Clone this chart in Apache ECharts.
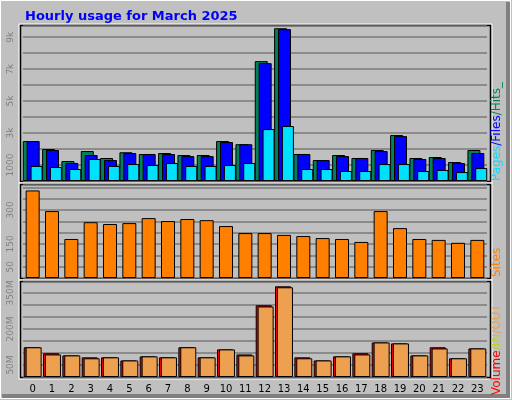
<!DOCTYPE html>
<html><head><meta charset="utf-8">
<script src="https://cdn.jsdelivr.net/npm/echarts@6/dist/echarts.min.js"></script>
<style>html,body{margin:0;padding:0;background:#c0c0c0}#c{width:512px;height:400px}</style>
</head><body><div id="c"></div>
<script>
const hours = ['0','1','2','3','4','5','6','7','8','9','10','11','12','13','14','15','16','17','18','19','20','21','22','23'];
const hits  = [2500,2000,1250,1875,1440,1800,1690,1750,1625,1625,2500,2300,7500,9560,1690,1310,1625,1440,1940,2875,1440,1500,1190,1940];
const files = [2500,1940,1130,1625,1310,1750,1690,1690,1560,1560,2440,2300,7375,9500,1690,1310,1560,1440,1875,2810,1375,1440,1125,1750];
const pages = [940,875,750,1375,940,1060,1000,1125,940,940,1000,1125,3250,3440,750,750,625,625,1060,1060,625,690,560,810];
const sites = [386,295,172,246,238,242,264,251,260,255,229,198,198,190,185,176,172,159,295,220,172,168,155,168];
const volume = [124,99,90,82,82,69,86,82,124,82,115,94,299,378,82,69,86,99,144,140,90,124,78,119];
const inout  = [124,94,90,78,82,69,86,82,124,82,115,90,294,374,78,69,86,94,144,140,90,119,78,119];

const ch = echarts.init(document.getElementById('c'));
const lbl = {color:'#808080',fontSize:9,fontFamily:'DejaVu Sans',rotate:90,margin:8};
const split = {show:true,lineStyle:{color:'#7a7a7a',width:1.5}};
const bord = {color:'#000',borderColor:'#000',borderWidth:1};
function xa(i,show){return {type:'category',gridIndex:i,data:hours,axisTick:{show:false},
  axisLine:{show:false},axisLabel:{show:show,color:'#000',fontSize:10,fontFamily:'DejaVu Sans',margin:7,interval:0}};}
const grid = (top,h)=>({left:23,top:top,width:464,height:h,show:false});
const frame = (top,h)=>[
  {type:'rect',shape:{x:19,y:top-2,width:473,height:h+4},style:{fill:null,stroke:'#ffffff',lineWidth:1}},
  {type:'rect',shape:{x:20.5,y:top-0.5,width:470,height:h+1},style:{fill:null,stroke:'#000',lineWidth:1.5}}
];
ch.setOption({
  animation:false,
  backgroundColor:'#c0c0c0',
  title:{text:'Hourly usage for March 2025',left:20,top:5,textStyle:{color:'#0000ff',fontSize:13,fontWeight:'bold',fontFamily:'DejaVu Sans'}},
  grid:[grid(26,155),grid(185,93),grid(282,95)],
  xAxis:[xa(0,false),xa(1,false),xa(2,true)],
  yAxis:[
    {type:'value',gridIndex:0,min:0,max:9700,interval:1000,splitLine:split,axisLine:{show:false},axisTick:{show:false},
     axisLabel:Object.assign({},lbl,{formatter:v=>v===1000?'1000':((v/1000)%2===1?(v/1000)+'k':''),showMaxLabel:false})},
    {type:'value',gridIndex:1,min:0,max:410,interval:50,splitLine:split,axisLine:{show:false},axisTick:{show:false},
     axisLabel:Object.assign({},lbl,{formatter:v=>(v===50||v===150||v===300)?String(v):'',showMaxLabel:false})},
    {type:'value',gridIndex:2,min:0,max:396,interval:50,splitLine:split,axisLine:{show:false},axisTick:{show:false},
     axisLabel:Object.assign({},lbl,{formatter:v=>(v===50||v===200||v===350)?v+'M':'',showMaxLabel:false})}
  ],
  series:[
    {type:'bar',xAxisIndex:0,yAxisIndex:0,data:hits,barWidth:13,barGap:'-85%',itemStyle:Object.assign({},bord,{color:'#00805c'})},
    {type:'bar',xAxisIndex:0,yAxisIndex:0,data:files,barWidth:13,barGap:'-85%',itemStyle:Object.assign({},bord,{color:'#0000ff'})},
    {type:'bar',xAxisIndex:0,yAxisIndex:0,data:pages,barWidth:12,barGap:'-70%',itemStyle:Object.assign({},bord,{color:'#00e0ff'})},
    {type:'bar',xAxisIndex:1,yAxisIndex:1,data:sites,barWidth:14,itemStyle:Object.assign({},bord,{color:'#ff8000'})},
    {type:'bar',xAxisIndex:2,yAxisIndex:2,data:volume,barWidth:16,barGap:'-88%',itemStyle:Object.assign({},bord,{color:'#ff0000'})},
    {type:'bar',xAxisIndex:2,yAxisIndex:2,data:inout,barWidth:16,barGap:'-88%',itemStyle:Object.assign({},bord,{color:'#eda050'})}
  ],
  graphic:[
    {type:'rect',shape:{x:0.5,y:0.5,width:510,height:398},style:{fill:null,stroke:'#ffffff',lineWidth:1}},
    {type:'polyline',shape:{points:[[508,2],[508,396],[2,396]]},style:{fill:null,stroke:'#808080',lineWidth:4}},
    ...frame(26,155),...frame(185,93),...frame(282,95),
    {type:'text',x:491,y:181,rotation:Math.PI/2,style:{text:'{a|Pages}{b|/Files}{c|/Hits_}',
      rich:{a:{fill:'#00e0ff'},b:{fill:'#0000ff'},c:{fill:'#00805c'}},fontSize:12,fontFamily:'DejaVu Sans'}},
    {type:'text',x:491,y:277,rotation:Math.PI/2,style:{text:'Sites',fill:'#ff8000',fontSize:12,fontFamily:'DejaVu Sans'}},
    {type:'text',x:491,y:395,rotation:Math.PI/2,style:{text:'{a|Volume}{b|/IN}{c|/OUT}',
      rich:{a:{fill:'#ff0000'},b:{fill:'#c0d020'},c:{fill:'#eda050'}},fontSize:12,fontFamily:'DejaVu Sans'}}
  ]
});
</script></body></html>
